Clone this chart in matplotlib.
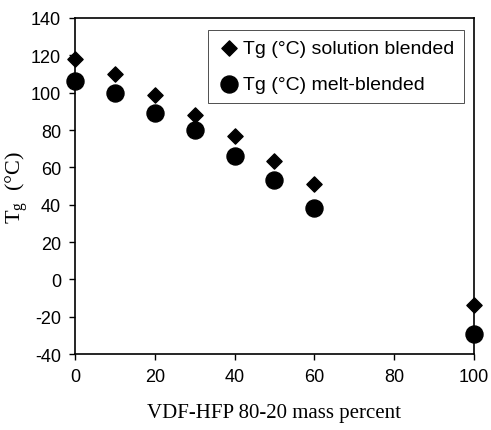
import matplotlib
matplotlib.use("Agg")
import matplotlib.pyplot as plt

# Data
mass_percent = [0, 10, 20, 30, 40, 50, 60, 100]
tg_solution = [118, 110, 99, 88, 77, 63.5, 51, -13.5]
tg_melt = [106, 100, 89, 80, 66, 53, 38, -29]

xticks = [0, 20, 40, 60, 80, 100]
yticks = list(range(-40, 141, 20))

def main():
    plt.rcParams['font.family'] = 'Liberation Sans'
    plt.rcParams['axes.unicode_minus'] = False
    fig = plt.figure(figsize=(4.91, 4.31), dpi=100)
    ax = fig.add_axes([0.153, 0.176, 0.812, 0.780])

    ax.scatter(mass_percent, tg_solution, marker='D', s=60, color='black',
               label='Tg (°C) solution blended', clip_on=False, zorder=3)
    ax.scatter(mass_percent, tg_melt, marker='o', s=150, color='black',
               label='Tg (°C) melt-blended', clip_on=False, zorder=3)

    ax.set_xlim(0, 100)
    ax.set_ylim(-40, 140)
    ax.set_xticks(xticks)
    ax.set_yticks(yticks)
    ax.tick_params(direction='out', length=4, width=1, labelsize=13, pad=6)
    for s in ax.spines.values():
        s.set_linewidth(1.2)

    ax.set_xlabel('VDF-HFP 80-20 mass percent', family='Liberation Serif',
                  fontsize=15, labelpad=13)
    ax.set_ylabel('T$_\\mathregular{g}$  (°C)', family='Liberation Serif',
                  fontsize=16, labelpad=0)

    leg = ax.legend(loc='upper right', bbox_to_anchor=(0.975, 0.964),
                    borderaxespad=0, fontsize=14, frameon=True,
                    fancybox=False, edgecolor='black', handletextpad=0.1,
                    borderpad=0.5, labelspacing=0.95, handlelength=1.2)
    leg.get_frame().set_linewidth(0.6)

    fig.savefig('out.png', dpi=100)

if __name__ == "__main__":
    main()
